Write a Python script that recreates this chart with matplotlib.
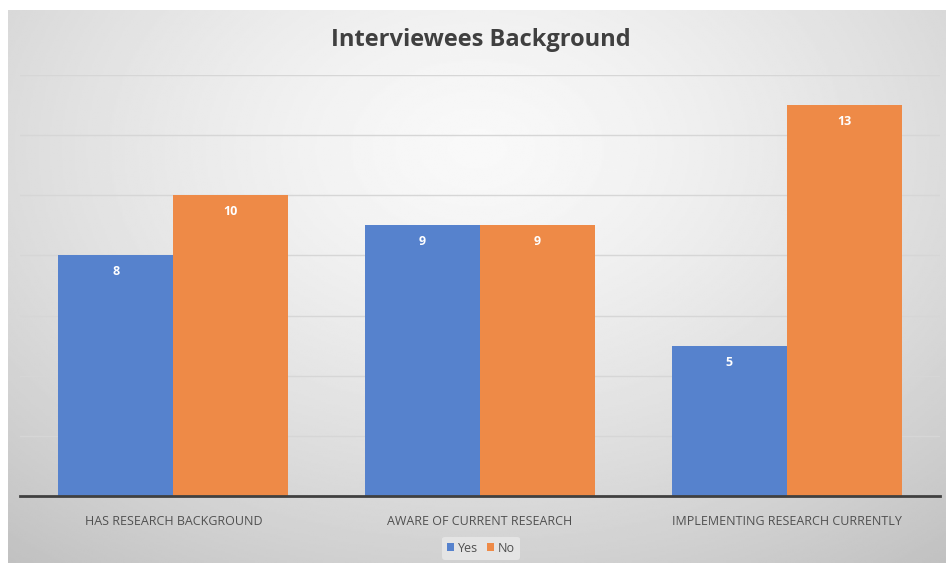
import numpy as np
import matplotlib.pyplot as plt

# datos
categorias = ['HAS RESEARCH BACKGROUND', 'AWARE OF CURRENT RESEARCH', 'IMPLEMENTING RESEARCH CURRENTLY']
yes_vals = [8, 9, 5]
no_vals = [10, 9, 13]

plt.rcParams['font.family'] = ['Open Sans', 'DejaVu Sans']

W, H = 946, 563
fig = plt.figure(figsize=(W / 100, H / 100), dpi=100)
fig.patch.set_facecolor('white')

# fondo con degradado radial
bg = fig.add_axes([8 / W, 0, 1 - 8 / W, 1 - 10 / H])
yy, xx = np.mgrid[0:1:300j, 0:1:500j]
r = np.sqrt(((xx - 0.5) / 0.75) ** 2 + ((yy - 0.25) / 0.9) ** 2)
grad = np.clip(0.975 - 0.2 * r ** 1.4, 0, 1)
bg.imshow(grad, cmap='gray', vmin=0, vmax=1, aspect='auto', extent=[0, 1, 1, 0])
bg.set_axis_off()

ax = fig.add_axes([20 / W, 1 - 496 / H, 920 / W, (496 - 75) / H])
ax.patch.set_alpha(0)

x = np.arange(len(categorias))
ancho = 115 / 307
c_yes = '#5682CD'
c_no = '#EE8A47'
b1 = ax.bar(x - ancho / 2, yes_vals, ancho, color=c_yes, label='Yes', zorder=3)
b2 = ax.bar(x + ancho / 2, no_vals, ancho, color=c_no, label='No', zorder=3)

for barras in (b1, b2):
    for b in barras:
        ax.text(b.get_x() + b.get_width() / 2, b.get_height() - 0.55, str(int(b.get_height())),
                ha='center', va='center', color='white', fontsize=9, fontweight='bold', zorder=4)

ax.set_xlim(-0.5, 2.5)
ax.set_ylim(0, 14)
ax.set_yticks(np.arange(0, 15, 2))
ax.yaxis.grid(True, color='#d6d6d6', linewidth=1, zorder=0)
ax.tick_params(axis='y', left=False, labelleft=False)
ax.tick_params(axis='x', bottom=False, pad=10)
ax.set_xticks(x)
ax.set_xticklabels(categorias, fontsize=9, color='#505050')
for lado in ['top', 'right', 'left']:
    ax.spines[lado].set_visible(False)
ax.spines['bottom'].set_color('#404040')
ax.spines['bottom'].set_linewidth(2)
ax.spines['bottom'].set_zorder(5)

fig.text(481 / W, 1 - 40 / H, 'Interviewees Background', ha='center', va='center',
         fontsize=17, fontweight='bold', color='#404040')

leg = ax.legend(loc='center', bbox_to_anchor=(481 / W, 1 - 548 / H), bbox_transform=fig.transFigure,
                ncol=2, frameon=True, fontsize=9, handlelength=0.55, handleheight=0.55,
                columnspacing=0.7, handletextpad=0.3, borderpad=0.4)
leg.get_frame().set_facecolor('#e4e4e4')
leg.get_frame().set_edgecolor('none')
leg.get_frame().set_alpha(1)
for t in leg.get_texts():
    t.set_color('#505050')

fig.savefig('out.png', dpi=100)
